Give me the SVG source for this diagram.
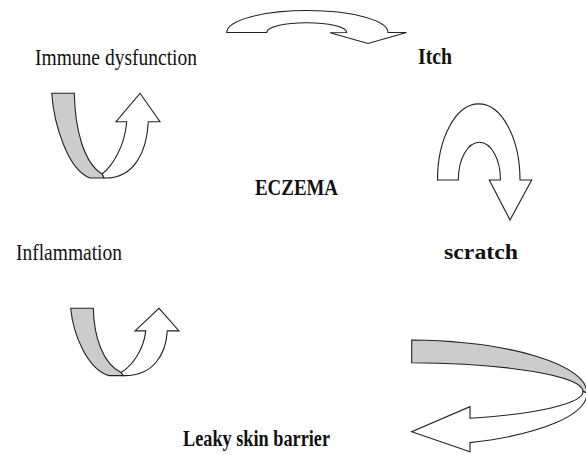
<svg xmlns="http://www.w3.org/2000/svg" width="586" height="459" viewBox="0 0 586 459">
<style>
.lbl{font-family:"Liberation Serif","Times New Roman",serif;font-size:24px;fill:#111}
.b{font-weight:bold}
.w{fill:#fff;stroke:#222;stroke-width:1.1;stroke-linejoin:miter}
.g{fill:#cccccc;stroke:#222;stroke-width:1.1}
.ns{vector-effect:non-scaling-stroke}
</style>
<rect width="586" height="459" fill="#fff"/>
<g id="connectors">
  <g id="arrow-immune-itch">
    <path class="w" d="M226.7,32.5 A80.6,22 0 0 1 388,32.5 L406.5,32.5 L368,43.5 L330,32.8 L346.7,32.5 A40,9.8 0 0 0 266.7,32.5 Z"/>
  </g>
  <g id="arrow-itch-scratch">
    <path class="w" d="M437.5,180 A41.2,76 0 0 1 520,180 L531.7,180 L510,220 L489.3,180 L500.5,180 A21.1,37.7 0 0 0 458.3,180 Z"/>
  </g>
  <g id="arrow-scratch-leaky">
    <path class="g" d="M411.7,340 A182,53 0 0 1 587,393 L583,391.5 A178,28.8 0 0 0 411.7,362.7 Z"/>
    <path class="w" d="M583,391.5 A178,28.8 0 0 1 470,418.3 L470,406.7 L411.7,431.7 L470,451.7 L470,442.6 A182,53 0 0 0 587,393 Z"/>
  </g>
  <g id="arrow-immune-loop">
    <path class="w" d="M102,174 C113,166 125,145 126.7,121.7 L116,121.7 L140,93.3 L160,121.7 L148.3,121.7 C147,150 135,179 104,178 Z"/>
    <path class="g" d="M51.7,93.3 L74.3,93.3 C75,130 84,163 102,174 L104,178 L90,178 C68,170 54,125 51.7,93.3 Z"/>
  </g>
  <g id="arrow-inflammation-loop" transform="translate(19,308.3) scale(1,0.795) translate(0,-93.3)">
    <path class="w ns" d="M102,174 C113,166 125,145 126.7,121.7 L116,121.7 L140,93.3 L160,121.7 L148.3,121.7 C147,150 135,179 104,178 Z"/>
    <path class="g ns" d="M51.7,93.3 L74.3,93.3 C75,130 84,163 102,174 L104,178 L90,178 C68,170 54,125 51.7,93.3 Z"/>
  </g>
</g>
<g id="node-immune"><text class="lbl" x="35" y="65" textLength="162" lengthAdjust="spacingAndGlyphs">Immune dysfunction</text></g>
<g id="node-itch"><text class="lbl b" x="418" y="64" textLength="34" lengthAdjust="spacingAndGlyphs">Itch</text></g>
<g id="node-eczema"><text class="lbl b" x="255" y="195" textLength="83" lengthAdjust="spacingAndGlyphs">ECZEMA</text></g>
<g id="node-inflammation"><text class="lbl" x="16" y="260" textLength="106" lengthAdjust="spacingAndGlyphs">Inflammation</text></g>
<g id="node-scratch"><text class="lbl b" x="444" y="259" style="font-size:22px" textLength="74" lengthAdjust="spacingAndGlyphs">scratch</text></g>
<g id="node-leaky"><text class="lbl b" x="183" y="446" textLength="147" lengthAdjust="spacingAndGlyphs">Leaky skin barrier</text></g>
</svg>
